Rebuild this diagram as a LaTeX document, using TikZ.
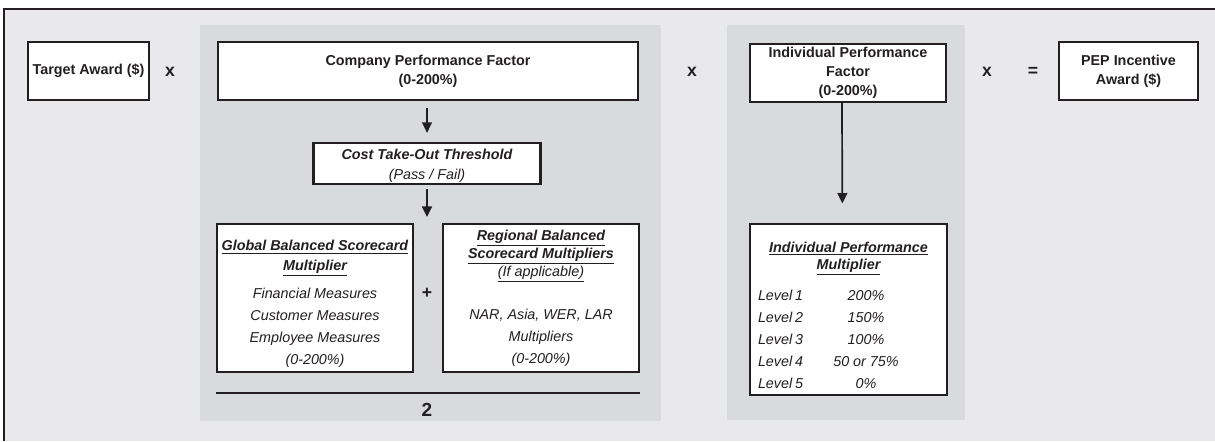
\documentclass[tikz,border=0pt]{standalone}
\usepackage{fontspec}
\setmainfont{Liberation Sans}
\usepackage{array}
\usetikzlibrary{arrows.meta,positioning}
\definecolor{outergray}{RGB}{233,233,235}
\definecolor{panelgray}{RGB}{217,218,220}
\definecolor{inkblack}{RGB}{35,31,32}
\newcommand{\basefont}{\fontsize{10.2}{13.5}\selectfont}
\newcommand{\ttl}[1]{\underline{\textbf{#1}}}
\tikzstyle{factor} = [rectangle, draw=inkblack, line width=1.6pt, fill=white, minimum height=1.45cm, text centered, align=center, font=\basefont\bfseries, inner sep=1pt]
\tikzstyle{scorecard} = [rectangle, draw=inkblack, line width=1.6pt, fill=white, minimum width=4.9cm, minimum height=3.7cm, align=center, font=\fontsize{10.2}{15.6}\selectfont\itshape, inner sep=0pt]
\tikzstyle{panel} = [fill=panelgray]
\tikzstyle{op} = [font=\fontsize{12.5}{14}\selectfont\bfseries]
\tikzstyle{arrow} = [line width=1.2pt,->,>={Triangle[length=7.5pt,width=7pt]}]
\tikzstyle{fracbar} = [line width=2.1pt]

\begin{document}
\begin{tikzpicture}[x=0.025cm, y=-0.025cm, inkblack]
	\useasboundingbox (0,0) rectangle (1215,441);
	\fill[white] (0,0) rectangle (1215,441);
	\fill[outergray] (4,9) rectangle (1215,441);
	\draw[line width=2.1pt] (4,441) -- (4,9) -- (1215,9);
	% shaded groups
	\fill[panel] (200,25) rectangle (661,421);
	\fill[panel] (727,25) rectangle (965,420);
	% top row
	\node (target) [factor, minimum width=3.025cm] at (88.5,71) {Target Award (\$)};
	\node (times1) [op] at (170,72) {x};
	\node (company) [factor, minimum width=10.5cm] at (428,71) {Company Performance Factor\\(0-200\%)};
	\node (times2) [op] at (692,72) {x};
	\node (indfac) [factor, minimum width=4.9cm] at (848,73) {Individual Performance\\Factor\\(0-200\%)};
	\node (times3) [op] at (987,72) {x};
	\node (equals) [op] at (1033,72) {=};
	\node (pep) [factor, minimum width=3.475cm] at (1128.5,71) {PEP Incentive\\Award (\$)};
	% company side
	\node (cost) [factor, minimum width=5.675cm, minimum height=1.025cm, font=\fontsize{10.2}{14}\selectfont\itshape] at (427,163.5) {\rule{0pt}{11pt}\textbf{Cost Take-Out Threshold}\\(Pass / Fail)};
	\coordinate (split) at (427,217);
	\node (global) [scorecard] at (315,298) {\rule{0pt}{16pt}\ttl{Global Balanced Scorecard}\\[-1.4pt]\ttl{Multiplier}\\[4.5pt]Financial Measures\\Customer Measures\\Employee Measures\\(0-200\%)};
	\node (plus) [op] at (427,293) {+};
	\node (regional) [scorecard] at (541,298) {\ttl{Regional Balanced}\\[-2.8pt]\ttl{Scorecard Multipliers}\\[-2.8pt]\underline{(If applicable)}\\[15pt]NAR, Asia, WER, LAR\\Multipliers\\(0-200\%)};
	\node (two) [op, font=\fontsize{13.5}{15}\selectfont\bfseries] at (427,410) {2};
	\draw[fracbar] (global.west |- 0,393) -- (regional.east |- 0,393);
	\draw[arrow, shorten <=5pt, shorten >=6.4pt] (company.south -| cost.north) -- (cost.north);
	\draw[arrow, shorten <=2.8pt] (cost) -- (split);
	% individual side
	\node (indmult) [scorecard, minimum width=4.925cm, minimum height=4.225cm] at (848.5,309.5) {\rule{0pt}{20pt}\ttl{Individual Performance}\\[-3.6pt]\ttl{Multiplier}\\[6.4pt]%
		\begin{tabular}[t]{@{}p{32pt}@{}>{\centering\arraybackslash}p{89.6pt}@{\hspace{7.1pt}}}
		Level 1 & 200\% \\
		Level 2 & 150\% \\
		Level 3 & 100\% \\
		Level 4 & 50 or 75\% \\
		Level 5 & 0\% \\
		\end{tabular}};
	\draw[arrow, shorten >=14pt] ([xshift=-4.3pt]indfac.south) -- ([xshift=-4.3pt]indmult.north);
\end{tikzpicture}
\end{document}
